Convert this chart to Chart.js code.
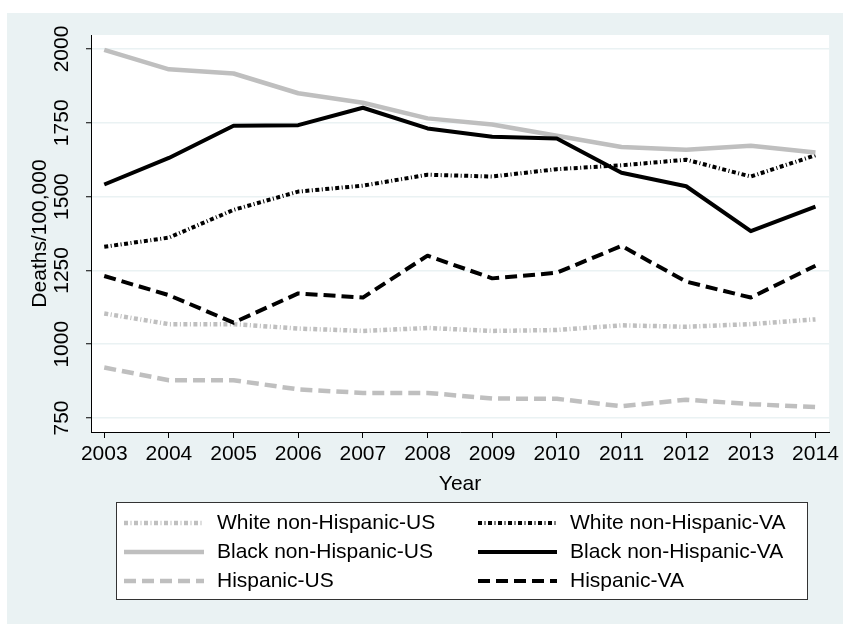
<!DOCTYPE html>
<html>
<head>
<meta charset="utf-8">
<script src="https://cdn.jsdelivr.net/npm/chart.js@4/dist/chart.umd.min.js"></script>
<style>
  html, body { margin: 0; padding: 0; background: #fff; }
  canvas { display: block; }
</style>
</head>
<body>
<canvas id="chart" width="843" height="624"></canvas>
<script>
// Age-adjusted death rates per 100,000, by group, 2003-2014
const years = [2003, 2004, 2005, 2006, 2007, 2008, 2009, 2010, 2011, 2012, 2013, 2014];

const whiteUS    = [1104, 1068, 1068, 1053, 1045, 1055, 1045, 1048, 1064, 1059, 1068, 1084];
const whiteVA    = [1330, 1361, 1455, 1517, 1537, 1574, 1568, 1593, 1606, 1625, 1568, 1640];
const blackUS    = [1997, 1931, 1917, 1850, 1818, 1765, 1744, 1706, 1668, 1659, 1672, 1649];
const blackVA    = [1541, 1631, 1740, 1742, 1801, 1731, 1703, 1697, 1581, 1535, 1383, 1466];
const hispanicUS = [921, 878, 878, 847, 835, 835, 816, 815, 790, 812, 797, 787];
const hispanicVA = [1231, 1166, 1073, 1172, 1158, 1300, 1223, 1242, 1333, 1212, 1158, 1266];

const yTickValues = [750, 1000, 1250, 1500, 1750, 2000];

const GRAY = '#bfbfbf';
const BLACK = '#000000';
const BG = '#eaf2f3';
const FONT = "'Liberation Sans', Arial, Helvetica, sans-serif";
const FONT_SIZE = 21;

const DASH_DOT = [4, 2.5, 1, 2.5];
const DASH = [12, 6];

function pts(values) {
  return values.map((v, i) => ({ x: years[i], y: v }));
}

function series(label, values, color, dash, width) {
  return {
    label,
    data: pts(values),
    borderColor: color,
    backgroundColor: color,
    borderDash: dash,
    borderWidth: width,
    borderCapStyle: 'butt',
    borderJoinStyle: 'round',
    pointRadius: 0,
    pointHoverRadius: 0,
    tension: 0,
    fill: false
  };
}

// Legend order: two columns, filled row by row
const datasets = [
  series('White non-Hispanic-US', whiteUS, GRAY, DASH_DOT, 4.5),
  series('White non-Hispanic-VA', whiteVA, BLACK, DASH_DOT, 4),
  series('Black non-Hispanic-US', blackUS, GRAY, [], 4.5),
  series('Black non-Hispanic-VA', blackVA, BLACK, [], 4),
  series('Hispanic-US', hispanicUS, GRAY, DASH, 4.5),
  series('Hispanic-VA', hispanicVA, BLACK, DASH, 4)
];
// later series are painted on top
datasets.forEach((d, i) => { d.order = datasets.length - i; });

const backgroundPlugin = {
  id: 'stataBackground',
  beforeDraw(chart) {
    const { ctx, width, height, chartArea } = chart;
    ctx.save();
    ctx.fillStyle = '#ffffff';
    ctx.fillRect(0, 0, width, height);
    ctx.fillStyle = BG;
    ctx.fillRect(7, 13, width - 7, height - 13);
    ctx.fillStyle = '#ffffff';
    ctx.fillRect(chartArea.left, chartArea.top,
                 chartArea.right - chartArea.left, chartArea.bottom - chartArea.top);
    ctx.restore();
  }
};

const legendPlugin = {
  id: 'boxLegend',
  afterDraw(chart) {
    const { ctx } = chart;
    const box = { x: 116.5, y: 502.5, w: 691, h: 97 };
    const rowY = [523, 552, 581];
    const cols = [
      { x0: 124, x1: 204, tx: 217 },
      { x0: 478, x1: 557, tx: 570 }
    ];
    ctx.save();
    ctx.fillStyle = '#ffffff';
    ctx.fillRect(box.x, box.y, box.w, box.h);
    ctx.strokeStyle = '#333333';
    ctx.lineWidth = 1;
    ctx.strokeRect(box.x, box.y, box.w, box.h);

    chart.data.datasets.forEach((ds, i) => {
      const c = cols[i % 2];
      const y = rowY[Math.floor(i / 2)];
      ctx.beginPath();
      ctx.setLineDash(ds.borderDash || []);
      ctx.lineCap = 'butt';
      ctx.lineWidth = ds.borderWidth;
      ctx.strokeStyle = ds.borderColor;
      ctx.moveTo(c.x0, y);
      ctx.lineTo(c.x1, y);
      ctx.stroke();
      ctx.setLineDash([]);
      ctx.fillStyle = '#000000';
      ctx.font = FONT_SIZE + 'px ' + FONT;
      ctx.textAlign = 'left';
      ctx.textBaseline = 'middle';
      ctx.fillText(ds.label, c.tx, y);
    });
    ctx.restore();
  }
};

Chart.defaults.font.family = FONT;
Chart.defaults.font.size = FONT_SIZE;
Chart.defaults.color = '#000000';

new Chart(document.getElementById('chart'), {
  type: 'line',
  data: { datasets },
  options: {
    responsive: false,
    animation: false,
    events: [],
    layout: { padding: { left: 7, top: 35, right: 10, bottom: 122 } },
    plugins: {
      legend: { display: false },
      tooltip: { enabled: false },
      title: { display: false }
    },
    scales: {
      x: {
        type: 'linear',
        min: 2002.795,
        max: 2014.211,
        afterBuildTicks(scale) {
          scale.ticks = years.map(v => ({ value: v }));
        },
        afterFit(scale) { scale.height = 70; },
        ticks: {
          padding: 4,
          maxRotation: 0,
          autoSkip: false,
          callback: v => String(v)
        },
        grid: {
          drawOnChartArea: false,
          drawTicks: true,
          tickLength: 6,
          tickColor: '#000000',
          tickWidth: 1
        },
        border: { display: true, color: '#000000', width: 1 },
        title: {
          display: true,
          text: 'Year',
          padding: { top: 0, bottom: 5.4 }
        }
      },
      y: {
        type: 'linear',
        min: 702.6,
        max: 2047.4,
        afterBuildTicks(scale) {
          scale.ticks = yTickValues.map(v => ({ value: v }));
        },
        afterFit(scale) { scale.width = 84; },
        ticks: {
          minRotation: 90,
          maxRotation: 90,
          crossAlign: 'center',
          padding: 0,
          autoSkip: false,
          callback: v => String(v)
        },
        grid: {
          color: BG,
          lineWidth: 1.5,
          drawTicks: true,
          tickLength: 5,
          tickColor: '#000000',
          tickWidth: 1
        },
        border: { display: true, color: '#000000', width: 1 },
        title: {
          display: true,
          text: 'Deaths/100,000',
          padding: { top: 20.4, bottom: 0 }
        }
      }
    }
  },
  plugins: [backgroundPlugin, legendPlugin]
});
</script>
</body>
</html>
